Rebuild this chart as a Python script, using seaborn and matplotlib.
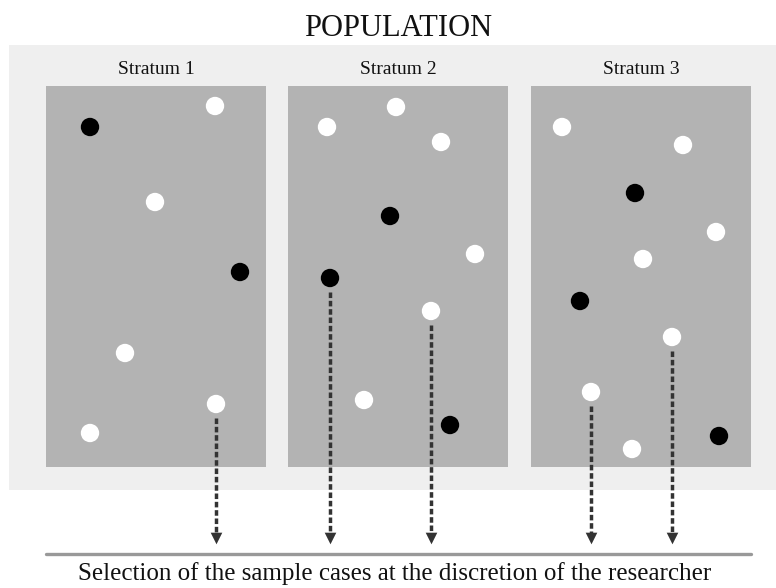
import numpy as np
import pandas as pd
import seaborn as sns
import matplotlib.pyplot as plt
from matplotlib.patches import Rectangle

# diagram coordinates are in image pixels (origin top-left)
strata_labels = ["Stratum 1", "Stratum 2", "Stratum 3"]
strata_left = [46, 288, 531]
strata_width = 220
strata_top = 86
strata_bottom = 467

point_stratum = [1, 1, 1, 1, 1, 1, 1,
                 2, 2, 2, 2, 2, 2, 2, 2, 2,
                 3, 3, 3, 3, 3, 3, 3, 3, 3, 3]
point_x = [90, 215, 155, 240, 125, 216, 90,
           327, 396, 441, 390, 475, 330, 431, 364, 450,
           562, 683, 635, 716, 643, 580, 672, 591, 719, 632]
point_y = [127, 106, 202, 272, 353, 404, 433,
           127, 107, 142, 216, 254, 278, 311, 400, 425,
           127, 145, 193, 232, 259, 301, 337, 392, 436, 449]
point_kind = ["black", "white", "white", "black", "white", "white", "white",
              "white", "white", "white", "black", "white", "black", "white", "white", "black",
              "white", "white", "black", "white", "white", "black", "white", "white", "black", "white"]

# selected cases (index into the point lists)
selected = [5, 12, 13, 22, 23]
arrow_tip_y = 542

title = "POPULATION"
caption = "Selection of the sample cases at the discretion of the researcher"


def main():
    sns.set_style("white")
    plt.rcParams["font.family"] = ["Liberation Serif", "DejaVu Serif"]

    fig = plt.figure(figsize=(7.76, 5.88), dpi=100)
    ax = fig.add_axes([0, 0, 1, 1])

    # population panel
    ax.add_patch(Rectangle((9, 45), 776 - 9, 490 - 45, color="#efefef", lw=0, zorder=0))
    for label, left in zip(strata_labels, strata_left):
        ax.add_patch(Rectangle((left, strata_top), strata_width, strata_bottom - strata_top,
                               color="#b3b3b3", lw=0, zorder=1))
        ax.text(left + strata_width / 2, 70, label, ha="center", va="center",
                fontsize=14, color="#111111")

    ax.text(398, 28, title, ha="center", va="center", fontsize=22, color="#111111")

    df = pd.DataFrame({"x": point_x, "y": point_y, "kind": point_kind,
                       "stratum": point_stratum})

    # dashed selection arrows
    for i in selected:
        x, y = df.loc[i, "x"], df.loc[i, "y"]
        ax.plot([x, x], [y + 14, arrow_tip_y - 6], color="#333333", lw=2.5,
                ls=(0, (1.6, 0.8)), zorder=2, solid_capstyle="butt")
        ax.scatter([x], [arrow_tip_y - 4], marker="v", s=70, color="#333333",
                   linewidths=0, zorder=2)

    sns.scatterplot(data=df, x="x", y="y", hue="kind",
                    palette={"black": "black", "white": "white"},
                    s=175, linewidth=0, legend=False, ax=ax, zorder=3)

    ax.plot([46, 751], [554, 554], color="#999999", lw=2.4, zorder=2)
    ax.text(395, 574, caption, ha="center", va="center", fontsize=18, color="#111111")

    ax.set_xlim(0, 776)
    ax.set_ylim(588, 0)
    ax.axis("off")

    fig.savefig("out.png", dpi=100)


if __name__ == "__main__":
    main()
